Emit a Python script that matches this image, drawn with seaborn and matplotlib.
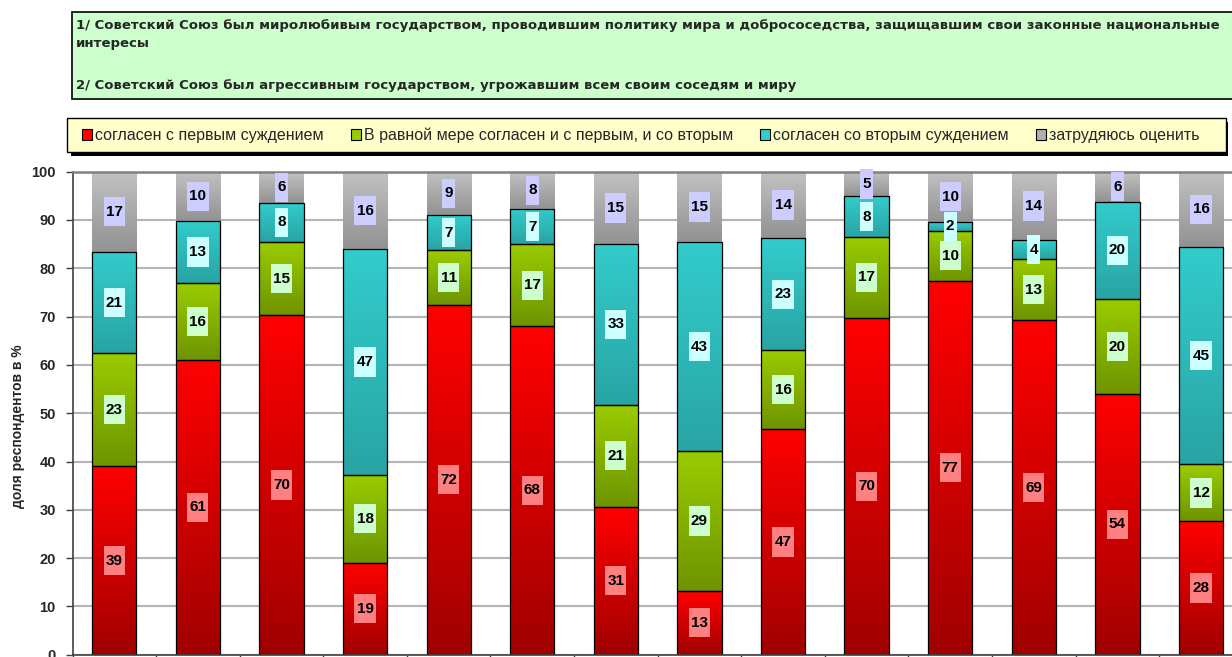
import numpy as np
import pandas as pd
import matplotlib
matplotlib.use("Agg")
import matplotlib.pyplot as plt
import seaborn as sns
from matplotlib.patches import Rectangle
from matplotlib.path import Path
from matplotlib.colors import LinearSegmentedColormap

# ---------------- data ----------------
categories = [str(i) for i in range(1, 15)]
series_names = [
    "согласен с первым суждением",
    "В равной мере согласен и с первым, и со вторым",
    "согласен со вторым суждением",
    "затрудяюсь оценить",
]
agree_first = [39.0, 61.0, 70.3, 19.0, 72.4, 68.0, 30.6, 13.2, 46.7, 69.7, 77.4, 69.2, 54.0, 27.6]
both_equal = [23.4, 15.9, 15.1, 18.3, 11.3, 17.0, 21.2, 29.0, 16.4, 16.8, 10.4, 12.7, 19.6, 11.8]
agree_second = [21.0, 12.9, 8.2, 46.6, 7.3, 7.3, 33.2, 43.2, 23.1, 8.4, 1.8, 3.9, 20.2, 45.0]
hard_to_say = [16.6, 10.2, 6.4, 16.1, 9.0, 7.7, 15.0, 14.6, 13.8, 5.1, 10.4, 14.2, 6.2, 15.6]
y_ticks = [0, 10, 20, 30, 40, 50, 60, 70, 80, 90, 100]

title_lines = [
    "1/ Советский Союз был миролюбивым государством, проводившим политику мира и добрососедства, защищавшим свои законные национальные",
    "интересы",
    "2/ Советский Союз был агрессивным государством, угрожавшим всем своим соседям и миру",
]
y_label = "доля респондентов в %"

# ---------------- style ----------------
W, H = 1232, 657
sns.set_theme(style="white")
plt.rcParams["font.family"] = ["Liberation Sans", "DejaVu Sans"]

fig = plt.figure(figsize=(W / 100, H / 100), dpi=100)
fig.patch.set_facecolor("white")

ax_left, ax_right = 72.5, 1242.8
ax_top, ax_bottom = 171.7, 654.7
ax = fig.add_axes([ax_left / W, 1 - ax_bottom / H, (ax_right - ax_left) / W, (ax_bottom - ax_top) / H])

grad_colors = [("#a00000", "#ff0000"), ("#6e9400", "#9acc00"), ("#29a4a4", "#33cccc"), ("#929292", "#c2c2c2")]
solid_colors = ["#ff0000", "#99cc00", "#33cccc", "#b0b0b0"]
label_bg = ["#ff8080", "#ccffcc", "#ccffff", "#ccccff"]

layers = [agree_first, both_equal, agree_second, hard_to_say]
bottom = np.zeros(len(categories))
containers = []
for i, vals in enumerate(layers):
    sns.barplot(x=categories, y=vals, bottom=bottom.copy(), color=solid_colors[i],
                saturation=1, width=0.53, ax=ax,
                edgecolor="black" if i < 3 else "none", linewidth=0.9, zorder=2)
    containers.append(ax.containers[-1])
    bottom = bottom + np.array(vals)


def label_box(x0, y0, width, height, mutation_size):
    px = 0.14 * mutation_size
    py = 0.5 * mutation_size
    verts = [(x0 - px, y0 - py), (x0 + width + px, y0 - py), (x0 + width + px, y0 + height + py),
             (x0 - px, y0 + height + py), (x0 - px, y0 - py)]
    return Path(verts, closed=True)


grad = np.linspace(0, 1, 256).reshape(-1, 1)
for i, cont in enumerate(containers):
    cmap = LinearSegmentedColormap.from_list(f"g{i}", list(grad_colors[i]))
    for p in cont.patches:
        x, y, w, h = p.get_x(), p.get_y(), p.get_width(), p.get_height()
        ax.imshow(grad, extent=[x, x + w, y, y + h], origin="lower", cmap=cmap,
                  aspect="auto", zorder=1.5, interpolation="bilinear")
        p.set_facecolor("none")
    ax.bar_label(cont, fmt="%.0f", label_type="center", fontsize=11, fontweight="bold",
                 color="black", zorder=5,
                 bbox=dict(boxstyle=label_box, fc=label_bg[i], ec="none"))

ax.set_xlim(-0.5, len(categories) - 0.5)
ax.set_ylim(0, 100)
ax.set_yticks(y_ticks)
ax.set_yticklabels([str(t) for t in y_ticks], fontsize=10.5, fontweight="bold")
ax.set_xticks(np.arange(-0.5, len(categories), 1))
ax.set_xticklabels([])
ax.tick_params(axis="y", length=5, width=1, color="#404040", pad=7, left=True)
ax.tick_params(axis="x", length=5, width=1, color="#404040", bottom=True)
ax.set_xlabel("")
ax.set_ylabel("")
ax.yaxis.grid(True, color="#b4b4b4", linewidth=1.5)
ax.xaxis.grid(False)
ax.set_axisbelow(True)
ax.spines["right"].set_visible(False)
ax.spines["top"].set_color("#808080")
ax.spines["top"].set_linewidth(1.8)
ax.spines["left"].set_color("#404040")
ax.spines["left"].set_linewidth(1.2)
ax.spines["bottom"].set_color("#404040")
ax.spines["bottom"].set_linewidth(1.2)

fig.text(18 / W, 1 - 426 / H, y_label, rotation=90, ha="center", va="center",
         fontsize=10, fontweight="bold")

# title box
fig.add_artist(Rectangle((72 / W, 1 - 98.7 / H), (1245 - 72) / W, 86.4 / H,
                         transform=fig.transFigure, fc="#ccffcc", ec="black", lw=1.2))
for txt, yc in zip(title_lines, [25, 44, 85]):
    fig.text(76 / W, 1 - yc / H, txt, ha="left", va="center", fontsize=9.55,
             fontweight="bold", family=["DejaVu Sans"])

# legend box with shadow
fig.add_artist(Rectangle((71 / W, 1 - 156 / H), (1228 - 71) / W, 34 / H,
                         transform=fig.transFigure, fc="black", ec="none"))
fig.add_artist(Rectangle((67 / W, 1 - 152 / H), (1226 - 67) / W, 34 / H,
                         transform=fig.transFigure, fc="#ffffcc", ec="black", lw=1))
handles = [Rectangle((0, 0), 1, 1, fc=solid_colors[i], ec="black", lw=0.8) for i in range(4)]
leg = fig.legend(handles, series_names, ncol=4, loc="center left",
                 bbox_to_anchor=(82 / W, 1 - 135 / H), frameon=False, fontsize=11.5,
                 handlelength=0.62, handleheight=0.7, handletextpad=0.2,
                 columnspacing=1.7, borderpad=0, borderaxespad=0)

fig.savefig("out.png", dpi=100)
